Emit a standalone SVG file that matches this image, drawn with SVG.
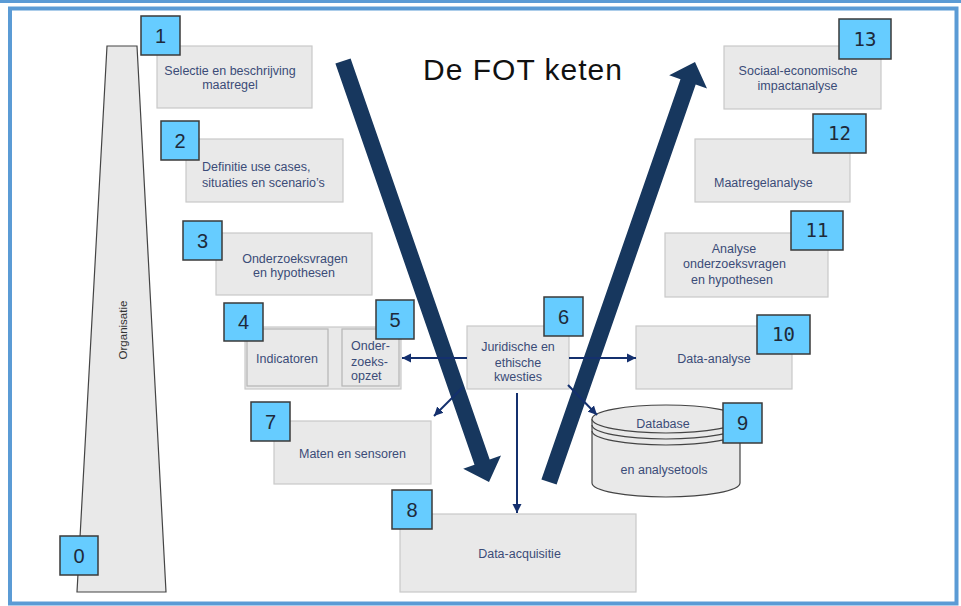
<svg xmlns="http://www.w3.org/2000/svg" width="961" height="606" viewBox="0 0 961 606">
<defs>
<style>
.box{fill:#E9E9E9;stroke:#C9C9C9;stroke-width:1.2}
.inner{fill:#E9E9E9;stroke:#B5B5B5;stroke-width:1.2}
.num{fill:#66CCFF;stroke:#3A3A3A;stroke-width:1.5}
.nt{font-family:"Liberation Sans",Arial,sans-serif;font-size:20px;fill:#1E2A3A;text-anchor:middle}
.nt2{font-family:"DejaVu Sans Mono","Liberation Mono",monospace;font-size:19px;fill:#1E2A3A;text-anchor:middle}
.lbl{font-family:"Liberation Sans",Arial,sans-serif;font-size:12.5px;fill:#3B4C78;text-anchor:middle}
.lbll{font-family:"Liberation Sans",Arial,sans-serif;font-size:12.5px;fill:#3B4C78}
.big{fill:#17375E}
.con{stroke:#14306E;stroke-width:2;fill:none;marker-end:url(#ah)}
</style>
<marker id="ah" markerWidth="10" markerHeight="10" refX="9" refY="5" orient="auto" markerUnits="userSpaceOnUse">
<path d="M0,0.5 L9,5 L0,9.5 Z" fill="#14306E"/>
</marker>
</defs>
<rect x="0" y="0" width="961" height="606" fill="#FFFFFF"/>
<rect x="0" y="0" width="961" height="3" fill="#5B9BD5"/>
<rect x="10" y="8.5" width="946.5" height="595" fill="none" stroke="#5B9BD5" stroke-width="4"/>

<text x="423" y="80" font-family="Liberation Sans,Arial,sans-serif" font-size="30" fill="#111" textLength="199">De FOT keten</text>

<g id="node0">
<polygon points="107,46 137,46 166,592 77,592" fill="#E9E9E9" stroke="#444" stroke-width="1.2"/>
<text transform="translate(127,330) rotate(-90)" font-family="Liberation Sans,Arial,sans-serif" font-size="11.5" fill="#333" text-anchor="middle">Organisatie</text>
<rect class="num" x="60" y="536" width="38" height="39"/>
<text class="nt" x="79" y="562.5">0</text>
</g>

<g id="bigarrows">
<polygon class="big" points="350.6,58.4 489.7,459.6 501.0,455.6 489,482 463.2,468.8 474.5,464.8 335.4,63.6"/>
<polygon class="big" points="541.4,479.4 680.5,79.2 669.2,75.2 695,62 707.0,88.4 695.7,84.4 556.6,484.6"/>
</g>

<g id="node1">
<rect class="box" x="157" y="46" width="155" height="62"/>
<text class="lbl" x="230" y="74.5">Selectie en beschrijving</text>
<text class="lbl" x="230" y="88.5">maatregel</text>
<rect class="num" x="141" y="16" width="39" height="39"/>
<text class="nt" x="160.5" y="42.5">1</text>
</g>

<g id="node2">
<rect class="box" x="186" y="139" width="157" height="63"/>
<text class="lbll" x="202" y="170.5">Definitie use cases,</text>
<text class="lbll" x="202" y="186.5">situaties en scenario’s</text>
<rect class="num" x="161" y="121" width="38" height="39"/>
<text class="nt" x="180" y="147.5">2</text>
</g>

<g id="node3">
<rect class="box" x="216" y="233" width="156" height="62"/>
<text class="lbl" x="295" y="262.5">Onderzoeksvragen</text>
<text class="lbl" x="294" y="276.5">en hypothesen</text>
<rect class="num" x="183" y="221" width="39" height="39"/>
<text class="nt" x="202.5" y="247.5">3</text>
</g>

<g id="node4">
<rect class="box" x="245" y="327" width="156" height="62"/>
<rect class="inner" x="247" y="329" width="81" height="57"/>
<text class="lbl" x="287" y="362.5">Indicatoren</text>
<rect class="num" x="224" y="303" width="39" height="38"/>
<text class="nt" x="243.5" y="329">4</text>
</g>

<g id="node5">
<rect class="inner" x="342" y="329" width="57" height="57"/>
<text class="lbll" x="351" y="349.5">Onder-</text>
<text class="lbll" x="351" y="365.5">zoeks-</text>
<text class="lbll" x="351" y="379.5">opzet</text>
<rect class="num" x="376" y="300" width="38" height="39"/>
<text class="nt" x="395" y="326.5">5</text>
</g>

<g id="node6">
<rect class="box" x="467" y="326" width="102" height="63"/>
<text class="lbl" x="518" y="350.5">Juridische en</text>
<text class="lbl" x="518" y="366.5">ethische</text>
<text class="lbl" x="518" y="380.5">kwesties</text>
<rect class="num" x="544" y="297" width="39" height="39"/>
<text class="nt" x="563.5" y="323.5">6</text>
</g>

<g id="node7">
<rect class="box" x="274" y="421" width="157" height="63"/>
<text class="lbl" x="352.5" y="457.5">Maten en sensoren</text>
<rect class="num" x="251" y="402" width="39" height="39"/>
<text class="nt" x="270.5" y="428.5">7</text>
</g>

<g id="node8">
<rect class="box" x="400" y="514" width="236" height="78"/>
<text class="lbl" x="519.5" y="557.5">Data-acquisitie</text>
<rect class="num" x="392" y="490" width="40" height="39"/>
<text class="nt" x="412" y="516.5">8</text>
</g>

<g id="node9">
<path d="M592,419 L592,483 A74,14 0 0 0 740,483 L740,419" fill="#E9E9E9" stroke="#444" stroke-width="1.2"/>
<ellipse cx="666" cy="419" rx="74" ry="14" fill="#E9E9E9" stroke="#444" stroke-width="1.2"/>
<path d="M592,425 A74,14 0 0 0 740,425" fill="none" stroke="#444" stroke-width="1.2"/>
<path d="M592,431 A74,14 0 0 0 740,431" fill="none" stroke="#444" stroke-width="1.2"/>
<text class="lbl" x="663" y="427.5">Database</text>
<text class="lbl" x="664" y="473.5">en analysetools</text>
<rect class="num" x="723" y="403" width="39" height="40"/>
<text class="nt" x="742.5" y="430">9</text>
</g>

<g id="node10">
<rect class="box" x="636" y="326" width="156" height="63"/>
<text class="lbl" x="714" y="362.5">Data-analyse</text>
<rect class="num" x="757" y="315" width="53" height="39"/>
<text class="nt2" x="783.5" y="341">10</text>
</g>

<g id="node11">
<rect class="box" x="665" y="233" width="163" height="64"/>
<text class="lbl" x="734" y="252.5">Analyse</text>
<text class="lbl" x="734.5" y="267.5">onderzoeksvragen</text>
<text class="lbl" x="732" y="283.5">en hypothesen</text>
<rect class="num" x="791" y="211" width="52" height="39"/>
<text class="nt2" x="817" y="237">11</text>
</g>

<g id="node12">
<rect class="box" x="695" y="139" width="155" height="63"/>
<text class="lbll" x="714" y="186.5">Maatregelanalyse</text>
<rect class="num" x="813" y="114" width="53" height="39"/>
<text class="nt2" x="839.5" y="140">12</text>
</g>

<g id="node13">
<rect class="box" x="724" y="46" width="157" height="63"/>
<text class="lbl" x="798" y="74.5">Sociaal-economische</text>
<text class="lbl" x="797.5" y="89.5">impactanalyse</text>
<rect class="num" x="839" y="19" width="52" height="40"/>
<text class="nt2" x="865" y="45.5">13</text>
</g>

<g id="connectors">
<line class="con" x1="467" y1="358" x2="402" y2="358"/>
<line class="con" x1="569" y1="358" x2="636" y2="358"/>
<line class="con" x1="517" y1="393" x2="517" y2="513"/>
<line class="con" x1="463" y1="387" x2="434" y2="416"/>
<line class="con" x1="568" y1="385" x2="597" y2="415"/>
</g>
</svg>
